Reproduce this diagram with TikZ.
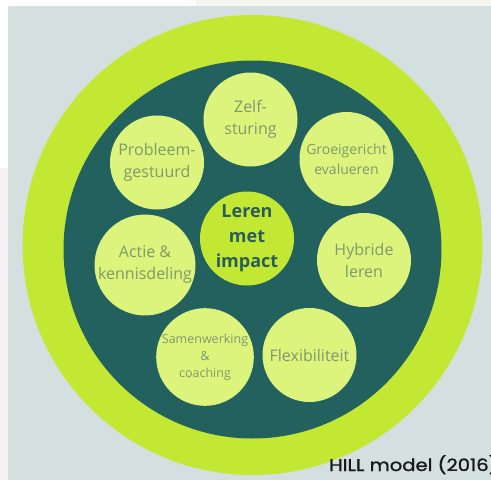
\documentclass[tikz,border=0pt]{standalone}
\usepackage{fontspec}
\setmainfont{Open Sans}
\newfontfamily\hillfont{Poppins}[FakeBold=1.2]
\definecolor{nen}{HTML}{D4DFDF}
\definecolor{kem}{HTML}{F5F5EF}
\definecolor{xam}{HTML}{F4F4F4}
\definecolor{chanh}{HTML}{C3E833}
\definecolor{reu}{HTML}{23615F}
\definecolor{bong}{HTML}{DCF37C}
\definecolor{chu}{HTML}{7F9A6B}
\definecolor{chudam}{HTML}{2B5D58}
\begin{document}
\begin{tikzpicture}[x=1pt,y=-1pt,line join=round,
	bubble/.style={circle,fill=bong,minimum size=94pt,inner sep=0pt,align=center,text=chu,font=\fontsize{16}{22}\selectfont},
	kern/.style={bubble,fill=chanh,text=chudam,font=\bfseries\fontsize{18}{25}\selectfont}]
	\def\R{230pt} % vong ngoai
	\def\r{189pt}
	\useasboundingbox (0,0) rectangle (491,480);
	\fill[white] (0,0) rectangle (491,480);
	\fill[kem] (196,0) rectangle (491,6);
	\fill[xam] (0,168) rectangle (8,480);
	\fill[nen] (8,6) rectangle (491,480);
	\fill[chanh] (252.5,245) circle (\R);
	\fill[reu] (252.5,249.5) circle (\r);
	\node[bubble] (zelf) at (250.5,119.5) {Zelf-\\sturing};
	\node[bubble] (probleem) at (157,162.5) {Probleem-\\gestuurd};
	\node[bubble,font=\fontsize{14}{19.5}\selectfont] (groei) at (346.5,159) {Groeigericht\\evalueren};
	\node[kern] (impact) at (247,238.5) {Leren\\met\\impact};
	\node[bubble] (actie) at (145,265) {Actie \&\\kennisdeling};
	\node[bubble] (hybride) at (364,260) {Hybride\\leren};
	\node[bubble,font=\fontsize{12.5}{17}\selectfont] (samen) at (205,357) {Samenwerking\\\&\\coaching};
	\node[bubble] (flex) at (309.5,355) {Flexibiliteit};
	\begin{scope}
		\clip (0,0) rectangle (491,480);
		\node[anchor=base west,inner sep=0pt,text=black!90,font=\hillfont\fontsize{17}{20}\selectfont] (bron) at (329,471) {\scalebox{1.15}[1]{HILL model (2016)}};
	\end{scope}
\end{tikzpicture}
\end{document}
